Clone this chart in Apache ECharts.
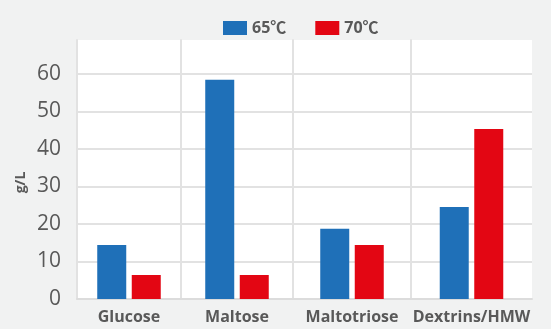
<!DOCTYPE html>
<html>
<head>
<meta charset="utf-8">
<title>g/L by sugar</title>
<script src="https://cdn.jsdelivr.net/npm/echarts@6/dist/echarts.min.js"></script>
<style>
  html, body {
    margin: 0;
    padding: 0;
    background: #f1f2f2;
  }
  #main {
    width: 551px;
    height: 329px;
  }
</style>
</head>
<body>
<div id="main"></div>
<script>
// data
var categories = ["Glucose", "Maltose", "Maltotriose", "Dextrins/HMW"];
var seriesNames = ["65℃", "70℃"];
var values65 = [14.4, 58.4, 18.7, 24.5];
var values70 = [6.4, 6.4, 14.4, 45.3];
var yTicks = [0, 10, 20, 30, 40, 50, 60];

// layout: the columns are not the same width in the original
var cellEdges = [77, 181, 293, 411, 532];
var colors = ["#1f70b8", "#e30613"];
var textColor = "#595959";
var lineColor = "#e2e2e2";
var font = "'Open Sans', 'Noto Sans CJK SC', sans-serif";

var grids = [];
var xAxes = [];
var yAxes = [];
var series = [];

categories.forEach(function (name, i) {
  grids.push({
    left: cellEdges[i],
    width: cellEdges[i + 1] - cellEdges[i],
    top: 40,
    bottom: 30,
    show: true,
    backgroundColor: "#fff",
    borderWidth: 0,
  });
  xAxes.push({
    type: "category",
    gridIndex: i,
    data: [name],
    axisTick: { show: false },
    axisLine: { lineStyle: { color: "#dcdcdc", width: 2 } },
    axisLabel: {
      color: textColor,
      fontFamily: font,
      fontSize: 16,
      fontWeight: "bold",
      margin: 10,
    },
  });
  yAxes.push({
    type: "value",
    gridIndex: i,
    min: yTicks[0],
    max: 69,
    interval: 10,
    name: i === 0 ? "g/L" : "",
    nameLocation: "middle",
    nameGap: 49,
    nameTextStyle: {
      color: textColor,
      fontFamily: font,
      fontSize: 14,
      fontWeight: "bold",
      padding: [0, 26, 0, 0],
    },
    axisLine: { show: true, lineStyle: { color: lineColor, width: 2 } },
    axisTick: { show: false },
    axisLabel: {
      show: i === 0,
      showMaxLabel: false,
      color: textColor,
      fontFamily: font,
      fontSize: 21,
      margin: 16,
    },
    splitLine: {
      showMaxLine: false,
      lineStyle: { color: lineColor, width: 2 },
    },
  });
  [values65, values70].forEach(function (vals, s) {
    series.push({
      name: seriesNames[s],
      type: "bar",
      xAxisIndex: i,
      yAxisIndex: i,
      barWidth: 29,
      barGap: "19%",
      itemStyle: { color: colors[s] },
      data: [vals[i]],
    });
  });
});

var mycharts = echarts.init(document.getElementById("main"));
mycharts.setOption({
  animation: false,
  backgroundColor: "#f1f2f2",
  legend: {
    data: seriesNames,
    left: 218,
    top: 15,
    itemWidth: 24,
    itemHeight: 14,
    itemGap: 29,
    icon: "rect",
    textStyle: {
      color: textColor,
      fontFamily: font,
      fontSize: 16,
      fontWeight: "bold",
    },
  },
  grid: grids,
  xAxis: xAxes,
  yAxis: yAxes,
  series: series,
});
</script>
</body>
</html>
